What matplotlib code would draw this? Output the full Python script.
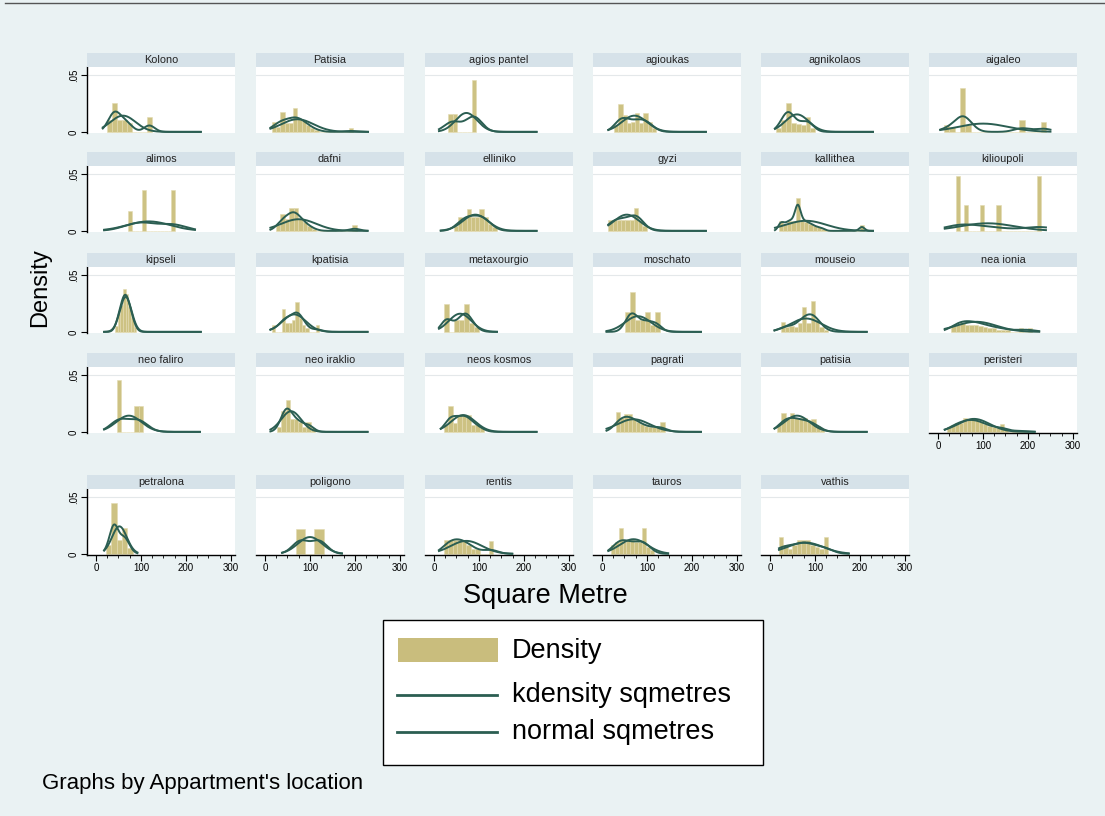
import numpy as np
import matplotlib
matplotlib.use("Agg")
import matplotlib.pyplot as plt
from matplotlib.patches import Rectangle
from matplotlib.lines import Line2D

plt.rcParams['font.family'] = ['Liberation Sans', 'DejaVu Sans']

# ---------------------------------------------------------------- data
locations = ["Kolono", "Patisia", "agios pantel", "agioukas", "agnikolaos", "aigaleo",
             "alimos", "dafni", "elliniko", "gyzi", "kallithea", "kilioupoli",
             "kipseli", "kpatisia", "metaxourgio", "moschato", "mouseio", "nea ionia",
             "neo faliro", "neo iraklio", "neos kosmos", "pagrati", "patisia", "peristeri",
             "petralona", "poligono", "rentis", "tauros", "vathis"]

# histogram: first bin edge, bin width, bar densities
bin_start = [25, 15, 31, 27, 13, 13,
             71, 24, 44, 14, 19, 40,
             42, 15, 22, 51, 24, 30,
             47, 27, 22, 31, 16, 20,
             22, 68, 22, 20, 20]
bin_width = [11, 9.5, 10.5, 9.3, 11, 12,
             8, 10, 9.5, 9.5, 9.5, 9,
             6, 7.5, 11, 11, 9.5, 10,
             9.5, 9.3, 10, 9, 9.5, 9,
             12, 21, 10, 8.6, 10]
bar_density = [
    [0.0105, 0.0257, 0.010, 0.010, 0.008, 0, 0, 0, 0.013],
    [0.009, 0.004, 0.0178, 0.008, 0.008, 0.0213, 0.011, 0.010, 0.006, 0.003, 0.002,
     0, 0, 0, 0, 0, 0, 0, 0.003],
    [0.016, 0.016, 0, 0, 0, 0.046],
    [0.006, 0.0246, 0.015, 0.008, 0.009, 0.017, 0.008, 0.017, 0.009, 0.003],
    [0.003, 0.0105, 0.0257, 0.008, 0.007, 0.006, 0.0129, 0.003],
    [0.006, 0.004, 0.0, 0.0386, 0.006, 0, 0, 0, 0, 0, 0, 0, 0, 0, 0.0105, 0, 0, 0, 0.009],
    [0.0175, 0, 0, 0, 0.0356, 0, 0, 0, 0, 0, 0, 0, 0.0356],
    [0.005, 0.0152, 0.010, 0.0204, 0.0204, 0.010, 0.008, 0.004, 0.002,
     0, 0, 0, 0, 0, 0, 0, 0, 0.0055],
    [0.004, 0.0123, 0.010, 0.019, 0.012, 0.012, 0.019, 0.012, 0.006, 0.003],
    [0.0095, 0.0095, 0.0095, 0.0095, 0.0095, 0.0095, 0.0204, 0.009, 0.004],
    [0.009, 0.006, 0.009, 0.009, 0.029, 0.009, 0.008, 0.006, 0.004, 0.003, 0.002,
     0, 0, 0, 0, 0, 0, 0, 0, 0.005],
    [0.048, 0, 0.023, 0, 0, 0, 0.023, 0, 0, 0, 0.023, 0, 0, 0, 0, 0, 0, 0, 0, 0, 0.048],
    [0.005, 0.016, 0.024, 0.038, 0.033, 0.022, 0.012, 0.004],
    [0.006, 0, 0, 0.020, 0.008, 0.008, 0.010, 0.026, 0.012, 0.006, 0.003, 0, 0, 0.006],
    [0.0249, 0, 0.010, 0.010, 0.0249, 0.008, 0.004],
    [0.0172, 0.035, 0.010, 0.010, 0.0172, 0.006, 0.0172],
    [0.0087, 0.004, 0.005, 0.004, 0.008, 0.0215, 0.008, 0.027, 0.010, 0.004, 0.002],
    [0.005, 0.006, 0.0075, 0.006, 0.006, 0.006, 0.005, 0.004, 0.003, 0.003, 0.002,
     0.002, 0.002, 0, 0, 0.003, 0, 0.003],
    [0.0457, 0, 0, 0, 0.0227, 0.0227],
    [0.004, 0.0184, 0.028, 0.011, 0.011, 0.009, 0.004, 0.009, 0.003],
    [0.006, 0.0227, 0.008, 0.0149, 0.0149, 0.0149, 0.006, 0.006, 0.003],
    [0.0178, 0.012, 0.016, 0.016, 0.011, 0.009, 0.007, 0.005, 0.004, 0.004, 0.004, 0.0083],
    [0.006, 0.017, 0.012, 0.017, 0.012, 0.012, 0.012, 0.010, 0.0112, 0.005, 0.002],
    [0.004, 0.006, 0.008, 0.008, 0.012, 0.010, 0.012, 0.010, 0.009, 0.007, 0.005,
     0.004, 0.003, 0.007, 0.002, 0, 0.001, 0.001, 0.001, 0.001],
    [0.008, 0.045, 0.012, 0.0227, 0.005],
    [0.0221, 0, 0.0221],
    [0.012, 0.012, 0.012, 0.012, 0.012, 0.008, 0.004, 0.004, 0, 0, 0.0112],
    [0.008, 0.010, 0.0227, 0.010, 0.012, 0.012, 0.010, 0.010, 0.0227, 0.006, 0.003],
    [0.0147, 0.008, 0.004, 0.008, 0.0122, 0.0122, 0.0122, 0.008, 0.006, 0.004, 0.0147],
]

# fitted normal (mean, sd) and kernel bandwidth per location
norm_mean = [60, 72, 72, 72, 60, 100,
             117, 75, 92, 55, 80, 110,
             66, 65, 58, 80, 80, 85,
             73, 58, 65, 70, 60, 80,
             52, 100, 72, 70, 78]
norm_sd = [28, 36, 24, 28, 26, 55,
           48, 39, 28, 28, 45, 60,
           13, 26, 25, 29, 34, 45,
           28, 22, 27, 36, 28, 35,
           16.5, 27, 35, 31, 40]
kde_bw = [12, 15, 18, 14, 12, 18,
          30, 12, 14, 14, 6, 35,
          7, 12, 12, 12, 14, 18,
          20, 10, 12, 14, 14, 14,
          9, 18, 16, 14, 18]
# range of sqmetres over which both curves are evaluated
curve_lo = [15, 12, 11, 14, 11, 5,
            18, 12, 15, 14, 11, 15,
            18, 12, 11, 10, 10, 15,
            18, 12, 15, 10, 10, 15,
            18, 38, 11, 14, 20]
curve_hi = [233, 229, 228, 231, 229, 250,
            220, 228, 228, 231, 229, 240,
            233, 228, 140, 220, 215, 225,
            231, 228, 228, 220, 215, 215,
            92, 171, 174, 147, 175]

x_ticks = [0, 100, 200, 300]
y_ticks = [0, 0.05]
y_tick_labels = ["0", ".05"]

# ---------------------------------------------------------------- layout
W, H = 1105, 816
BG = '#eaf2f3'
STRIP = '#d6e2e9'
BAR = '#cdc283'
LINE = '#2b5e52'

fig = plt.figure(figsize=(W / 100, H / 100), dpi=100, facecolor=BG)


def fbox(left, top, width, height):
    return [left / W, 1 - (top + height) / H, width / W, height / H]


col_left = [87, 256, 425, 593, 761, 929]
row_top = [67, 166, 267, 367, 489]
panel_w, panel_h, strip_h = 148, 66, 14
n_cols = 6
n_panels = len(locations)


def gauss(x, m, s):
    return np.exp(-0.5 * ((x - m) / s) ** 2) / (s * np.sqrt(2 * np.pi))


for i, name in enumerate(locations):
    r, c = divmod(i, n_cols)
    left, top = col_left[c], row_top[r]
    ax = fig.add_axes(fbox(left, top, panel_w, panel_h))
    ax.set_facecolor('white')
    ax.set_xlim(-20, 309)
    ax.set_ylim(-0.001, 0.057)
    ax.axhline(0.05, color='#e4e8ea', lw=0.8, zorder=0)

    heights = np.array(bar_density[i], dtype=float)
    w = bin_width[i]
    edges = bin_start[i] + w * np.arange(len(heights))
    ax.bar(edges, heights, width=w, align='edge', color=BAR,
           edgecolor='#e2dab0', linewidth=0.4, zorder=1)

    xs = np.linspace(curve_lo[i], curve_hi[i], 300)
    centres = edges + w / 2
    mass = heights * w
    mass = mass / mass.sum()
    kde = sum(m * gauss(xs, cc, kde_bw[i]) for m, cc in zip(mass, centres))
    ax.plot(xs, kde, color=LINE, lw=1.4, zorder=3)
    ax.plot(xs, gauss(xs, norm_mean[i], norm_sd[i]), color=LINE, lw=1.4, zorder=3)

    for s in ax.spines.values():
        s.set_visible(False)

    # y axis on the first column only
    if c == 0:
        ax.spines['left'].set_visible(True)
        ax.spines['left'].set_linewidth(1.0)
        ax.set_yticks(y_ticks)
        ax.set_yticklabels(y_tick_labels, rotation=90, va='center', fontsize=7)
        ax.tick_params(axis='y', length=4, width=0.8, pad=2)
    else:
        ax.set_yticks([])

    # x axis on the lowest panel of every column
    below = i + n_cols
    if below >= n_panels:
        ax.spines['bottom'].set_visible(True)
        ax.spines['bottom'].set_linewidth(1.0)
        ax.spines['bottom'].set_position(('data', -0.001))
        ax.set_xticks(x_ticks)
        ax.set_xticklabels([str(t) for t in x_ticks], fontsize=7)
        ax.set_xticks([25, 50, 75, 125, 150, 175, 225, 250, 275], minor=True)
        ax.tick_params(axis='x', which='major', length=4, width=0.8, pad=2)
        ax.tick_params(axis='x', which='minor', length=2, width=0.6)
    else:
        ax.set_xticks([])

    # title strip
    fig.add_artist(Rectangle(((left) / W, 1 - top / H), panel_w / W, strip_h / H,
                             transform=fig.transFigure, facecolor=STRIP,
                             edgecolor='none'))
    fig.text((left + panel_w / 2) / W, 1 - (top - strip_h / 2) / H, name,
             ha='center', va='center', fontsize=7.8, color='#222222')

# axis titles
fig.text(545 / W, 1 - 596 / H, "Square Metre", ha='center', va='center', fontsize=19.5)
fig.text(40 / W, 1 - 288 / H, "Density", ha='center', va='center', rotation=90,
         fontsize=17)

# legend
lx0, ly0, lx1, ly1 = 383, 620, 763, 765
fig.add_artist(Rectangle((lx0 / W, 1 - ly1 / H), (lx1 - lx0) / W, (ly1 - ly0) / H,
                         transform=fig.transFigure, facecolor='white',
                         edgecolor='black', linewidth=1.0))
fig.add_artist(Rectangle((398 / W, 1 - 662 / H), 100 / W, 24 / H,
                         transform=fig.transFigure, facecolor='#c9bd7d',
                         edgecolor='none'))
fig.text(512 / W, 1 - 651 / H, "Density", va='center', fontsize=19.5)
for yy, lab in [(695, "kdensity sqmetres"), (732, "normal sqmetres")]:
    fig.add_artist(Line2D([397 / W, 497 / W], [1 - yy / H, 1 - yy / H],
                          transform=fig.transFigure, color=LINE, lw=2.0))
    fig.text(512 / W, 1 - yy / H, lab, va='center', fontsize=19.5)

fig.text(42 / W, 1 - 783 / H, "Graphs by Appartment's location", va='center',
         fontsize=16)

# frame line along the top edge
fig.add_artist(Line2D([5 / W, 1], [1 - 3 / H, 1 - 3 / H], transform=fig.transFigure,
                      color='#555555', lw=1.0))

fig.savefig("out.png", dpi=100, facecolor=BG)
